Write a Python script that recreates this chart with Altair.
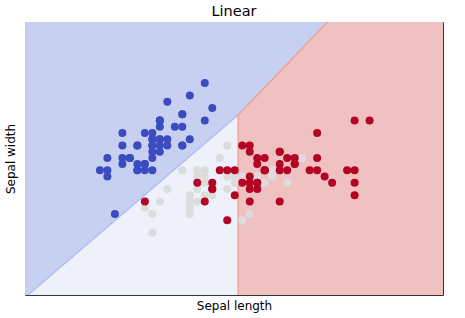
import altair as alt
import pandas as pd

# Iris sepal measurements (length, width) per class
setosa_len = [5.1,4.9,4.7,4.6,5.0,5.4,4.6,5.0,4.4,4.9,5.4,4.8,4.8,4.3,5.8,5.7,5.4,5.1,5.7,5.1,
              5.4,5.1,4.6,5.1,4.8,5.0,5.0,5.2,5.2,4.7,4.8,5.4,5.2,5.5,4.9,5.0,5.5,4.9,4.4,5.1,
              5.0,4.5,4.4,5.0,5.1,4.8,5.1,4.6,5.3,5.0]
setosa_wid = [3.5,3.0,3.2,3.1,3.6,3.9,3.4,3.4,2.9,3.1,3.7,3.4,3.0,3.0,4.0,4.4,3.9,3.5,3.8,3.8,
              3.4,3.7,3.6,3.3,3.4,3.0,3.4,3.5,3.4,3.2,3.1,3.4,4.1,4.2,3.1,3.2,3.5,3.6,3.0,3.4,
              3.5,2.3,3.2,3.5,3.8,3.0,3.8,3.2,3.7,3.3]
versi_len = [7.0,6.4,6.9,5.5,6.5,5.7,6.3,4.9,6.6,5.2,5.0,5.9,6.0,6.1,5.6,6.7,5.6,5.8,6.2,5.6,
             5.9,6.1,6.3,6.1,6.4,6.6,6.8,6.7,6.0,5.7,5.5,5.5,5.8,6.0,5.4,6.0,6.7,6.3,5.6,5.5,
             5.5,6.1,5.8,5.0,5.6,5.7,5.7,6.2,5.1,5.7]
versi_wid = [3.2,3.2,3.1,2.3,2.8,2.8,3.3,2.4,2.9,2.7,2.0,3.0,2.2,2.9,2.9,3.1,3.0,2.7,2.2,2.5,
             3.2,2.8,2.5,2.8,2.9,3.0,2.8,3.0,2.9,2.6,2.4,2.4,2.7,2.7,3.0,3.4,3.1,2.3,3.0,2.5,
             2.6,3.0,2.6,2.3,2.7,3.0,2.9,2.9,2.5,2.8]
virg_len = [6.3,5.8,7.1,6.3,6.5,7.6,4.9,7.3,6.7,7.2,6.5,6.4,6.8,5.7,5.8,6.4,6.5,7.7,7.7,6.0,
            6.9,5.6,7.7,6.3,6.7,7.2,6.2,6.1,6.4,7.2,7.4,7.9,6.4,6.3,6.1,7.7,6.3,6.4,6.0,6.9,
            6.7,6.9,5.8,6.8,6.7,6.7,6.3,6.5,6.2,5.9]
virg_wid = [3.3,2.7,3.0,2.9,3.0,3.0,2.5,2.9,2.5,3.6,3.2,2.7,3.0,2.5,2.8,3.2,3.0,3.8,2.6,2.2,
            3.2,2.8,2.8,2.7,3.3,3.2,2.8,3.0,2.8,3.0,2.8,3.8,2.8,2.8,2.6,3.0,3.4,3.1,3.0,3.1,
            3.1,3.1,2.7,3.2,3.3,3.0,2.5,3.0,3.4,3.0]

# Decision regions (in data units)
region_name = ["setosa"] * 4 + ["versicolor"] * 2 + ["virginica"] * 3
region_x = [3.3, 3.34, 6.144, 7.339, 3.34, 6.144, 6.144, 7.339, 8.88]
region_top = [5.38, 5.38, 5.38, 5.38, 1.0, 3.888, 3.888, 5.38, 5.38]
region_bottom = [1.0, 1.0, 3.888, 5.38, 1.0, 1.0, 1.0, 1.0, 1.0]

edge_name = ["bw", "bw", "red", "red", "red"]
edge_x = [3.34, 6.144, 6.144, 6.144, 7.339]
edge_y = [1.0, 3.888, 1.0, 3.888, 5.38]

points = pd.DataFrame({
    "x": setosa_len + versi_len + virg_len,
    "y": setosa_wid + versi_wid + virg_wid,
    "cls": ["setosa"] * 50 + ["versicolor"] * 50 + ["virginica"] * 50,
})
regions = pd.DataFrame({"x": region_x, "top": region_top, "bottom": region_bottom, "cls": region_name})
edges = pd.DataFrame({"x": edge_x, "y": edge_y, "e": edge_name, "i": list(range(len(edge_x)))})

xs = alt.Scale(domain=[3.3, 8.88], nice=False, zero=False)
ys = alt.Scale(domain=[1.0, 5.38], nice=False, zero=False)
xax = alt.Axis(title="Sepal length", labels=False, ticks=False, domain=False, grid=False)
yax = alt.Axis(title="Sepal width", labels=False, ticks=False, domain=False, grid=False)

area = alt.Chart(regions).mark_area(opacity=1, interpolate="linear").encode(
    x=alt.X("x:Q", scale=xs, axis=xax),
    y=alt.Y("top:Q", scale=ys, axis=yax),
    y2="bottom:Q",
    color=alt.Color("cls:N", scale=alt.Scale(domain=["setosa", "versicolor", "virginica"],
                                             range=["#c8d0f1", "#eef1fa", "#f0c1c1"]), legend=None),
)

lines = alt.Chart(edges).mark_line(strokeWidth=1.2).encode(
    x=alt.X("x:Q", scale=xs),
    y=alt.Y("y:Q", scale=ys),
    order="i:O",
    detail="e:N",
    color=alt.Color("e:N", scale=alt.Scale(domain=["bw", "red"], range=["#abbcf4", "#ec9c8e"]), legend=None),
)

dots = alt.Chart(points).mark_circle(size=64, opacity=1).encode(
    x=alt.X("x:Q", scale=xs),
    y=alt.Y("y:Q", scale=ys),
    color=alt.Color("cls:N", scale=alt.Scale(domain=["setosa", "versicolor", "virginica"],
                                             range=["#3b4cc0", "#dcdcdc", "#b40426"]), legend=None),
)

chart = alt.layer(area, lines, dots).resolve_scale(color="independent").properties(
    width=418, height=273,
    title=alt.TitleParams("Linear", fontSize=14.5, font="DejaVu Sans", fontWeight="normal",
                          color="black", offset=0),
    autosize=alt.AutoSizeParams(type="none"),
    padding={"left": 25, "top": 22, "right": 22, "bottom": 23},
).configure_view(stroke="#333333", strokeWidth=1).configure_axis(
    titleFont="DejaVu Sans", titleFontSize=12, titleFontWeight="normal", titleColor="black",
).configure_axisX(titlePadding=5).configure_axisY(titlePadding=8)

chart.save("out.html", embed_options={"renderer": "svg", "actions": False})
